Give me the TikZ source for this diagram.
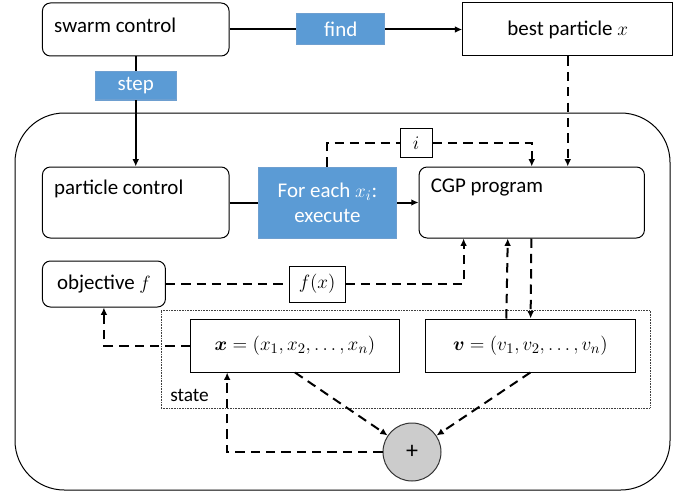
\documentclass[tikz,border=0pt]{standalone}
\usepackage{fontspec}
\setmainfont{Carlito}
\usepackage{bm}
\usetikzlibrary{arrows.meta, positioning}
\definecolor{tagblue}{HTML}{5B9BD5}
\definecolor{tagedge}{HTML}{6E9FD0}
\tikzset{
    block/.style={
        rectangle, draw=black, line width=0.75pt, rounded corners=6pt,
        minimum width=140pt, minimum height=39.75pt,
        fill=white, font=\fontsize{15.7}{19}\selectfont
    },
    plainbox/.style={
        rectangle, draw=black, line width=0.75pt,
        fill=white, font=\fontsize{15.7}{19}\selectfont
    },
    varbox/.style={
        rectangle, draw=black, line width=0.75pt, inner sep=2pt,
        fill=white, font=\fontsize{15.7}{19}\selectfont
    },
    tag/.style={
        rectangle, draw=tagedge, line width=0.75pt, fill=tagblue,
        text=white, inner sep=1pt, font=\fontsize{15.7}{19}\selectfont
    },
    txt/.style={inner sep=0pt, font=\fontsize{15.7}{19}\selectfont},
    frame/.style={
        rectangle, draw=black, line width=0.75pt, rounded corners=37pt,
        minimum width=491.25pt, minimum height=282.75pt
    },
    statebox/.style={
        rectangle, draw=black!75, line width=0.5pt,
        dash pattern=on 0.6pt off 0.6pt,
        minimum width=366.75pt, minimum height=73.5pt
    },
    adder/.style={
        circle, draw=black!80, line width=0.75pt, fill=black!20,
        minimum size=43.5pt, inner sep=0pt, font=\fontsize{18}{20}\selectfont
    },
    link/.style={draw=black, line width=1.5pt},
    wire/.style={link, -{Latex[length=5.5pt,width=5pt]}},
    dlink/.style={draw=black, line width=1.5pt, dash pattern=on 7pt off 4.5pt},
    dwire/.style={dlink, -{Latex[length=5.5pt,width=5pt]}}
}

\begin{document}
\begin{tikzpicture}[x=0.75pt, y=-0.75pt]
\useasboundingbox (0,0) rectangle (678,492);

% Particle frame
\node[frame] (part) at (342.5,301.5) {};

% Swarm level
\node[block] (sc) at (135.75,29.5) {};
\node[txt, right=9pt of sc.west, yshift=3.4pt] {swarm control};
\node[tag, right=50pt of sc, minimum width=66pt, minimum height=23.25pt] (find) {find};
\node[plainbox, right=57.75pt of find, minimum width=157.5pt, minimum height=39.75pt] (best) {best particle $x$};
\node[tag, below=11.25pt of sc, minimum width=61pt, minimum height=21pt] (step) {step};

\draw[link] (sc) -- (find);
\draw[wire] (find) -- (best);
\draw[link] (sc) -- (step);

% Particle control and program
\node[block, below=49.5pt of step, minimum height=53.25pt] (pc) {};
\node[txt, right=9pt of pc.west, yshift=10pt] {particle control};
\node[tag, right=21pt of pc, minimum width=104pt, minimum height=53.25pt, align=center] (each) {For each $x_i$:\\execute};
\node[block, right=16pt of each, minimum width=169pt, minimum height=53.25pt] (cgp) {};
\node[txt, right=9pt of cgp.west, yshift=11pt] {CGP program};

\draw[wire] (step) -- (pc);
\draw[link] (pc) -- (each);
\draw[wire] (each) -- (cgp);

\node[varbox, minimum width=24pt, minimum height=22pt] (idx) at (416,143) {$i$};
\draw[dlink] (each) |- (idx);
\draw[dwire] (idx) -| (cgp);
\draw[dwire] (best) -- (best |- cgp.north);

% Objective
\node[block, minimum width=92.25pt, minimum height=34.5pt, below=16.5pt of pc.south west, anchor=north west] (obj) {objective $f$};
\node[varbox, minimum width=42pt, minimum height=27pt, right=92pt of obj] (fx) {$f(x)$};
\coordinate (cgpin) at ([xshift=33.75pt]cgp.south west);
\draw[dlink] (obj) -- (fx);
\draw[dwire] (fx) -| (cgpin);

% State
\node[statebox] (state) at (405.5,359) {};
\node[txt, anchor=south west, font=\fontsize{14.5}{17}\selectfont] at ([xshift=7pt,yshift=5pt]state.south west) {state};
\node[varbox, minimum width=157pt, minimum height=39.75pt] (xs) at (295,345.5) {$\bm{x}=(x_1,x_2,\ldots,x_n)$};
\node[varbox, right=18.75pt of xs, minimum width=157pt, minimum height=39.75pt] (vs) {$\bm{v}=(v_1,v_2,\ldots,v_n)$};

\draw[dwire] (cgp) -- (vs);
\draw[dwire] ([xshift=-18pt]vs.north) -- ([xshift=-18pt]cgp.south);
\draw[dwire] (xs) -| (obj);

% Update
\node[adder] (plus) at (412,452) {+};
\draw[dwire] (xs.south) -- (plus);
\draw[dwire] (vs.south) -- (plus);
\draw[dwire] (plus) -| ([xshift=28pt]xs.south west);

\end{tikzpicture}
\end{document}
